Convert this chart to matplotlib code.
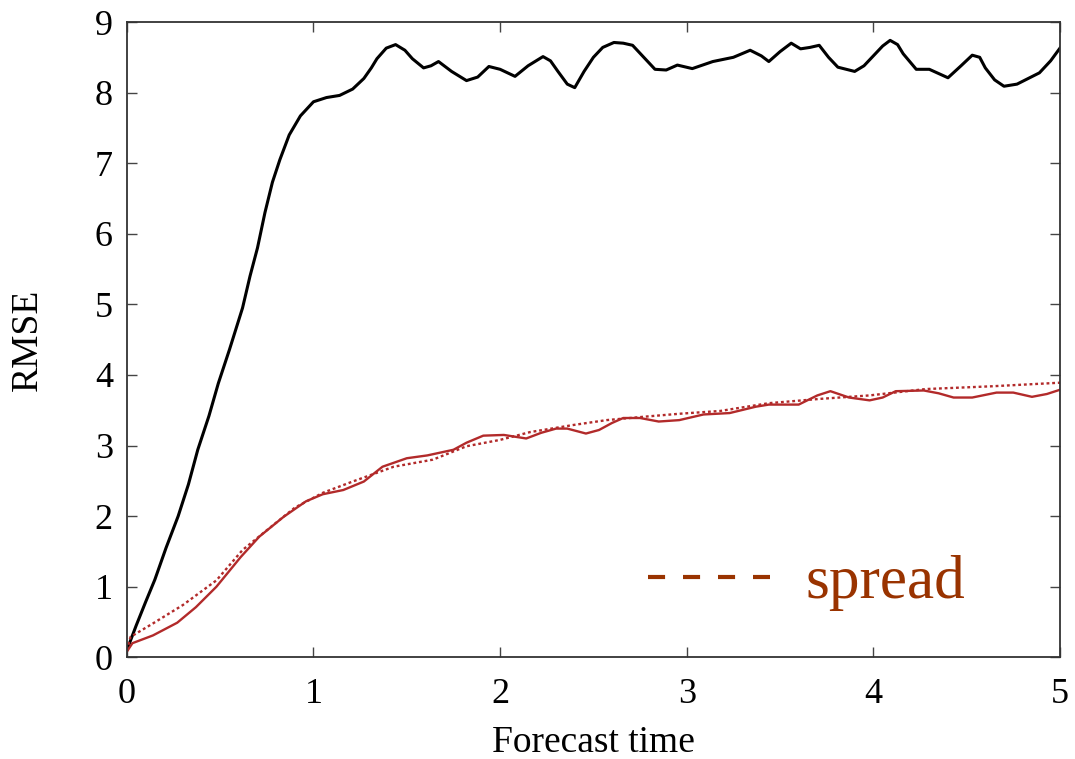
import matplotlib
matplotlib.use("Agg")
import matplotlib.pyplot as plt
from matplotlib.lines import Line2D

# RMSE (black)
t_rmse = [0, 0.05, 0.10, 0.15, 0.21, 0.275, 0.33, 0.38, 0.44, 0.49, 0.55, 0.62, 0.66,
          0.70, 0.74, 0.78, 0.82, 0.87, 0.93, 1.0, 1.07, 1.14, 1.21, 1.27, 1.31, 1.34,
          1.39, 1.44, 1.49, 1.53, 1.59, 1.63, 1.67, 1.74, 1.82, 1.88, 1.94, 2.0, 2.08,
          2.15, 2.23, 2.27, 2.31, 2.36, 2.40, 2.45, 2.50, 2.55, 2.61, 2.66, 2.71, 2.77,
          2.83, 2.89, 2.95, 3.03, 3.14, 3.25, 3.34, 3.40, 3.44, 3.50, 3.56, 3.61, 3.66,
          3.71, 3.76, 3.81, 3.90, 3.95, 4.0, 4.05, 4.09, 4.13, 4.16, 4.23, 4.30, 4.40,
          4.47, 4.53, 4.57, 4.60, 4.65, 4.70, 4.77, 4.83, 4.89, 4.95, 5.0]
rmse = [0.1, 0.45, 0.78, 1.1, 1.55, 2.0, 2.45, 2.94, 3.42, 3.88, 4.36, 4.95, 5.4,
        5.8, 6.3, 6.73, 7.05, 7.4, 7.67, 7.87, 7.93, 7.96, 8.05, 8.2, 8.35, 8.48,
        8.63, 8.68, 8.6, 8.48, 8.35, 8.38, 8.44, 8.3, 8.17, 8.22, 8.37, 8.33, 8.23,
        8.38, 8.51, 8.45, 8.3, 8.12, 8.07, 8.3, 8.5, 8.64, 8.71, 8.7, 8.67, 8.5,
        8.33, 8.32, 8.39, 8.34, 8.44, 8.5, 8.6, 8.52, 8.44, 8.58, 8.7, 8.62, 8.64,
        8.67, 8.5, 8.36, 8.3, 8.38, 8.52, 8.66, 8.74, 8.68, 8.55, 8.33, 8.33, 8.21,
        8.38, 8.53, 8.5, 8.35, 8.18, 8.09, 8.12, 8.2, 8.28, 8.45, 8.63]

# RMSE (red solid)
t_red = [0, 0.03, 0.14, 0.27, 0.37, 0.48, 0.61, 0.71, 0.84, 0.96, 1.05, 1.16, 1.27,
         1.37, 1.50, 1.61, 1.75, 1.82, 1.91, 2.02, 2.14, 2.22, 2.30, 2.36, 2.46, 2.53,
         2.60, 2.66, 2.75, 2.85, 2.96, 3.09, 3.23, 3.37, 3.44, 3.60, 3.70, 3.77, 3.87,
         3.98, 4.05, 4.12, 4.27, 4.35, 4.43, 4.53, 4.66, 4.75, 4.85, 4.93, 5.0]
red = [0.08, 0.2, 0.31, 0.49, 0.71, 1.0, 1.42, 1.71, 1.99, 2.21, 2.31, 2.37, 2.49,
       2.7, 2.82, 2.86, 2.94, 3.04, 3.14, 3.15, 3.10, 3.18, 3.24, 3.24, 3.17, 3.22,
       3.32, 3.39, 3.39, 3.34, 3.36, 3.44, 3.46, 3.55, 3.58, 3.58, 3.71, 3.77, 3.68,
       3.64, 3.68, 3.77, 3.78, 3.74, 3.68, 3.68, 3.75, 3.75, 3.69, 3.73, 3.79]

# spread (red dotted)
t_spread = [0, 0.02, 0.14, 0.30, 0.48, 0.62, 0.75, 0.9, 1.05, 1.21, 1.43, 1.64, 1.82,
            2.0, 2.16, 2.39, 2.57, 2.78, 2.96, 3.18, 3.44, 3.71, 3.98, 4.28, 4.64, 5.0]
spread = [0.1, 0.29, 0.48, 0.74, 1.09, 1.52, 1.8, 2.12, 2.33, 2.49, 2.70, 2.8, 2.99,
          3.08, 3.19, 3.29, 3.36, 3.41, 3.45, 3.49, 3.6, 3.66, 3.71, 3.8, 3.84, 3.89]

xticks = [0, 1, 2, 3, 4, 5]
yticks = [0, 1, 2, 3, 4, 5, 6, 7, 8, 9]

plt.rcParams['font.family'] = ['Liberation Serif', 'DejaVu Serif']

fig = plt.figure(figsize=(10.75, 7.59), dpi=100)
ax = fig.add_axes([0.118, 0.134, 0.868, 0.837])

ax.plot(t_rmse, rmse, color='black', lw=2.2, solid_joinstyle='round')
ax.plot(t_red, red, color='#b22a2a', lw=1.7, solid_joinstyle='round')
ax.plot(t_spread, spread, color='#b22a2a', lw=1.7, linestyle=(0, (1.2, 1.2)))

ax.set_xlim(0, 5)
ax.set_ylim(0, 9)
ax.set_xticks(xticks)
ax.set_yticks(yticks)
ax.tick_params(direction='in', length=7, width=1, top=True, right=True,
               labelsize=26, pad=10, color='#444444')
ax.tick_params(axis='x', pad=15)
for s in ax.spines.values():
    s.set_linewidth(1.3)
    s.set_color('#333333')

ax.set_xlabel('Forecast time', fontsize=27, labelpad=10)
ax.set_ylabel('RMSE', fontsize=27, labelpad=36)

h = Line2D([], [], color='#993300', lw=3, linestyle=(0, (4.1, 4.3)))
ax.legend(handles=[h], labels=['spread'], loc='lower right',
          bbox_to_anchor=(0.957, -0.014), frameon=False, fontsize=44,
          labelcolor='#993300', handlelength=2.0, handletextpad=0.57)

fig.savefig('out.png', dpi=100)
